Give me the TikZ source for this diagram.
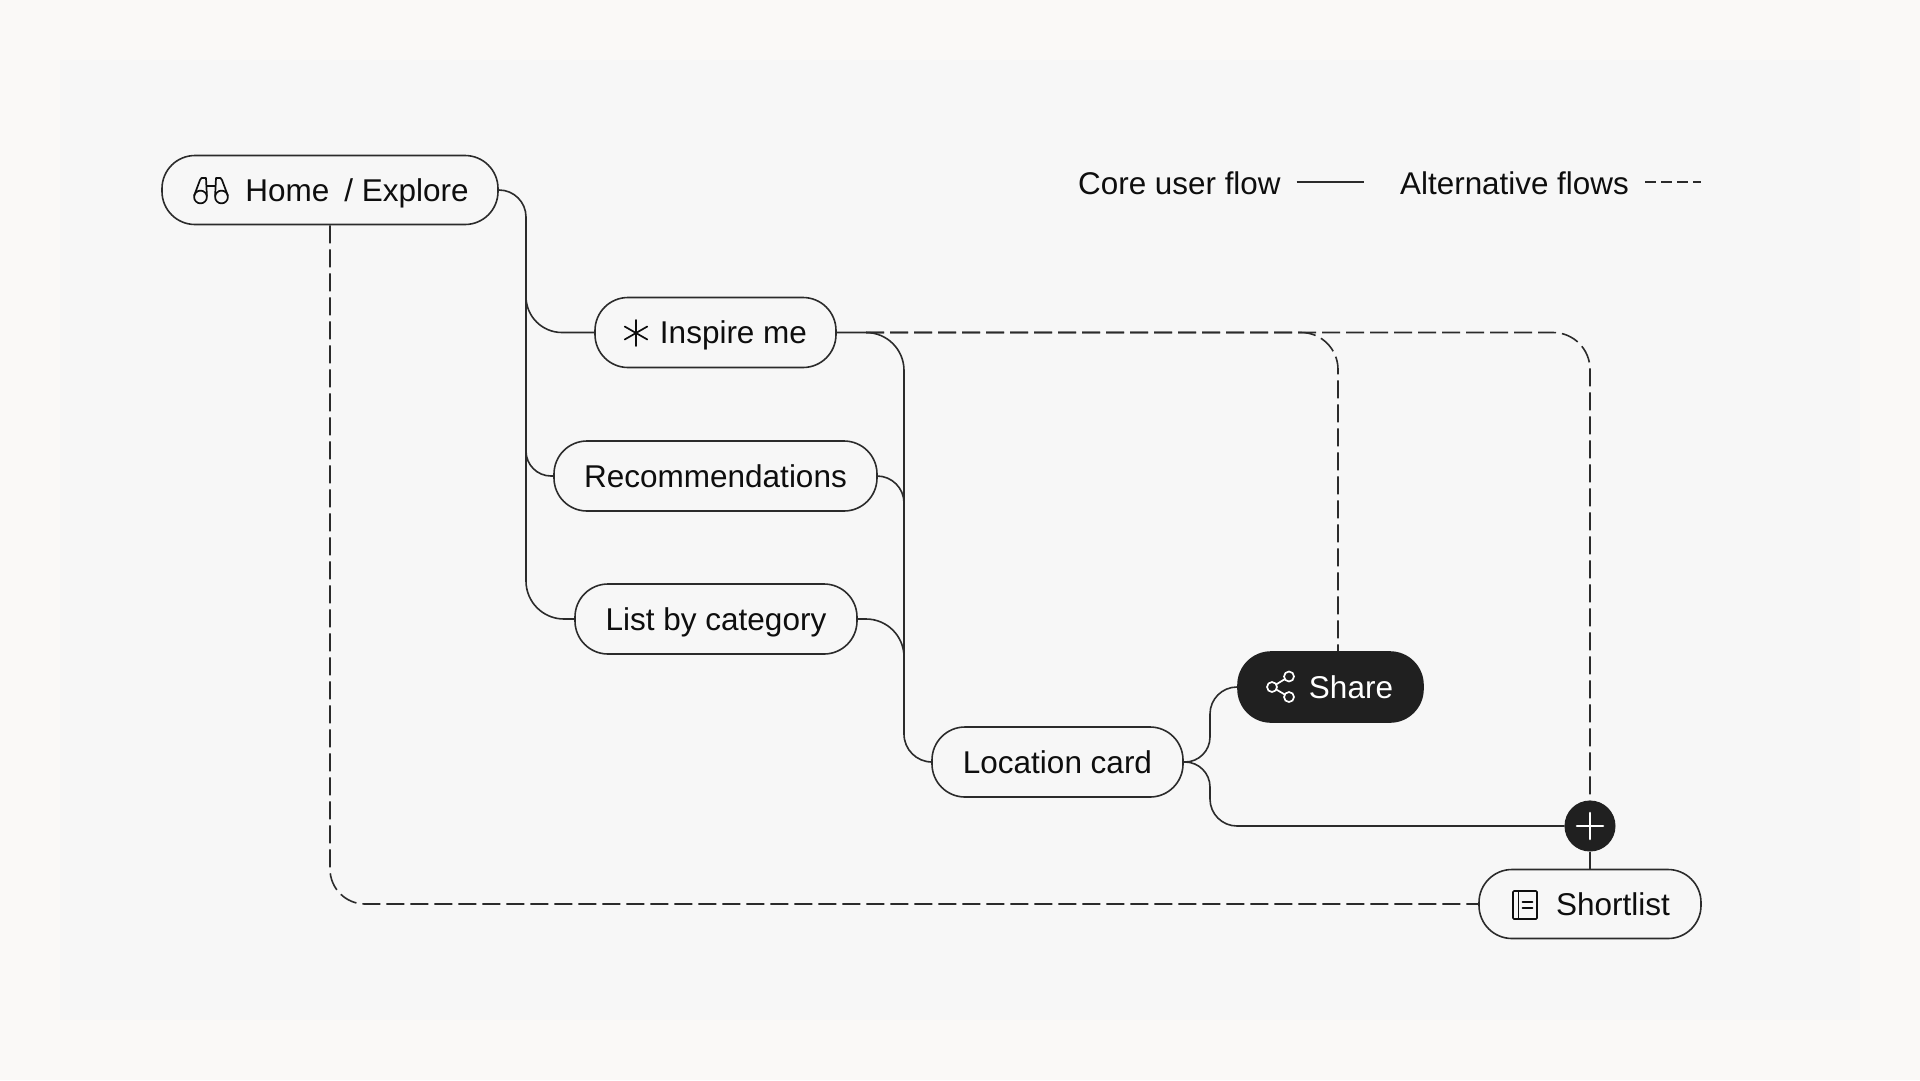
\documentclass[tikz,border=0pt]{standalone}
\usepackage{fontspec}
\setmainfont{Liberation Sans}
\definecolor{pagebg}{HTML}{FAF9F7}
\definecolor{panelbg}{HTML}{F7F7F7}
\definecolor{ink}{HTML}{2B2B2B}
\definecolor{txt}{HTML}{0E0E0E}
\definecolor{dark}{HTML}{202020}
\tikzset{
  pill/.style={draw=ink,line width=1.6pt,rectangle,rounded corners=33pt,fill=panelbg,inner sep=0pt,
    minimum height=#1,text=txt,text height=24pt,text depth=2pt,font=\fontsize{31.5}{36}\selectfont},
  pill/.default=70pt,
  conn/.style={draw=ink,line width=1.6pt},
  alt/.style={draw=ink,line width=1.6pt,dash pattern=on 18pt off 6pt},
  icon/.style={draw=txt,line width=1.7pt,line cap=round,line join=round},
  legendtext/.style={text=txt,inner sep=0pt,anchor=base west,font=\fontsize{31.4}{36}\selectfont},
}
\begin{document}
\begin{tikzpicture}[x=1pt,y=-1pt]
\useasboundingbox (0,0) rectangle (1920,1080);
\fill[pagebg] (0,0) rectangle (1920,1080);
\fill[panelbg] (60,60) rectangle (1860,1020);

% nodes
\node[pill=69pt,minimum width=336pt] (home) at (330,190) {\hspace*{54pt}Home\hspace{15pt}/ Explore};
\node[pill=70pt,minimum width=241pt] (inspire) at (715.5,332.5) {\hspace*{36pt}Inspire me};
\node[pill=70pt,minimum width=323pt] (recs) at (715.5,476) {Recommendations};
\node[pill=70pt,minimum width=282pt] (list) at (716,619) {List by category};
\node[pill=70pt,minimum width=251pt] (location) at (1057.5,762) {Location card};
\node[pill=70pt,minimum width=185pt,fill=dark,draw=dark,text=white] (share) at (1330.5,687) {\hspace*{41pt}Share};
\node[pill=69pt,minimum width=222pt] (shortlist) at (1590,904) {\hspace*{46pt}Shortlist};
\node[circle,fill=dark,draw=dark,line width=1pt,minimum size=50pt,inner sep=0pt] (plus) at (1590,826) {};

% legend
\node[legendtext] (coretext) at (1078,194) {Core user flow};
\node[legendtext] (alttext) at (1400,194) {Alternative flows};
\coordinate (coreA) at (1296.5,182);
\coordinate (coreB) at (1364,182);
\coordinate (altA) at (1645,182);
\coordinate (altB) at (1701,182);
\draw[conn] (coreA) -- (coreB);
\draw[draw=ink,line width=1.6pt,dash pattern=on 10.5pt off 5.5pt] (altA) -- (altB);

% trunk points
\coordinate (trunkOneTop) at (526,260);
\coordinate (trunkTwoTop) at (904,420);
\coordinate (trunkTwoEnd) at (904,700);
\coordinate (recsDrop) at (904,540);
\coordinate (upperBend) at (1210,725);
\coordinate (lowerBend) at (1210,795);
\coordinate (altStart) at (866,332.5);

% core flow
\draw[conn,rounded corners=27pt] (home.east) -| (trunkOneTop);
\draw[conn,rounded corners=36pt] (trunkOneTop) |- (inspire.west);
\draw[conn,rounded corners=25pt] (trunkOneTop) |- (recs.west);
\draw[conn,rounded corners=38pt] (trunkOneTop) |- (list.west);
\draw[conn,rounded corners=38pt] (inspire.east) -| (trunkTwoTop);
\draw[conn,rounded corners=28pt] (trunkTwoTop) |- (location.west);
\draw[conn,rounded corners=27pt] (recs.east) -| (recsDrop);
\draw[conn,rounded corners=38pt] (list.east) -| (trunkTwoEnd);
\draw[conn,rounded corners=25pt] (location.east) -| (upperBend);
\draw[conn,rounded corners=27pt] (upperBend) |- (share.west);
\draw[conn,rounded corners=25pt] (location.east) -| (lowerBend);
\draw[conn,rounded corners=27pt] (lowerBend) |- (plus.west);
\draw[conn] (plus.south) -- (shortlist.north);

% alternative flows
\draw[alt,rounded corners=35pt] (home.south) |- (shortlist.west);
\draw[alt,rounded corners=37pt] (altStart) -| ([xshift=7.5pt]share.north);
\draw[alt,rounded corners=37pt] (altStart) -| (plus.north);

% icon: binoculars
\draw[icon] (200.5,197) circle (6.4pt) (221.5,197) circle (6.4pt);
\draw[icon] (194.2,195.5) -- (200,180) -- (201.5,178) -- (206,178) -- (206.9,196);
\draw[icon] (227.8,195.5) -- (222,180) -- (220.5,178) -- (216,178) -- (215.1,196);
\draw[icon] (206.5,186) -- (215.5,186);
% icon: asterisk
\draw[icon] (636,320) -- (636,346) (624.7,326.5) -- (647.3,339.5) (624.7,339.5) -- (647.3,326.5);
% icon: share
\draw[draw=white,line width=1.7pt] (1272,687) -- (1289,676.5) (1272,687) -- (1289,697);
\draw[draw=white,fill=dark,line width=1.7pt] (1272,687) circle (5pt) (1289,676.5) circle (5pt) (1289,697) circle (5pt);
% icon: notebook
\draw[icon,rounded corners=1pt] (1513,891) rectangle (1537,919);
\draw[icon] (1518.5,891) -- (1518.5,919) (1522.5,902) -- (1532.5,902) (1522.5,908) -- (1532.5,908);
% icon: plus
\draw[draw=white,line width=2.6pt,line cap=round] (1577,826) -- (1603,826) (1590,813) -- (1590,839);
\end{tikzpicture}
\end{document}
